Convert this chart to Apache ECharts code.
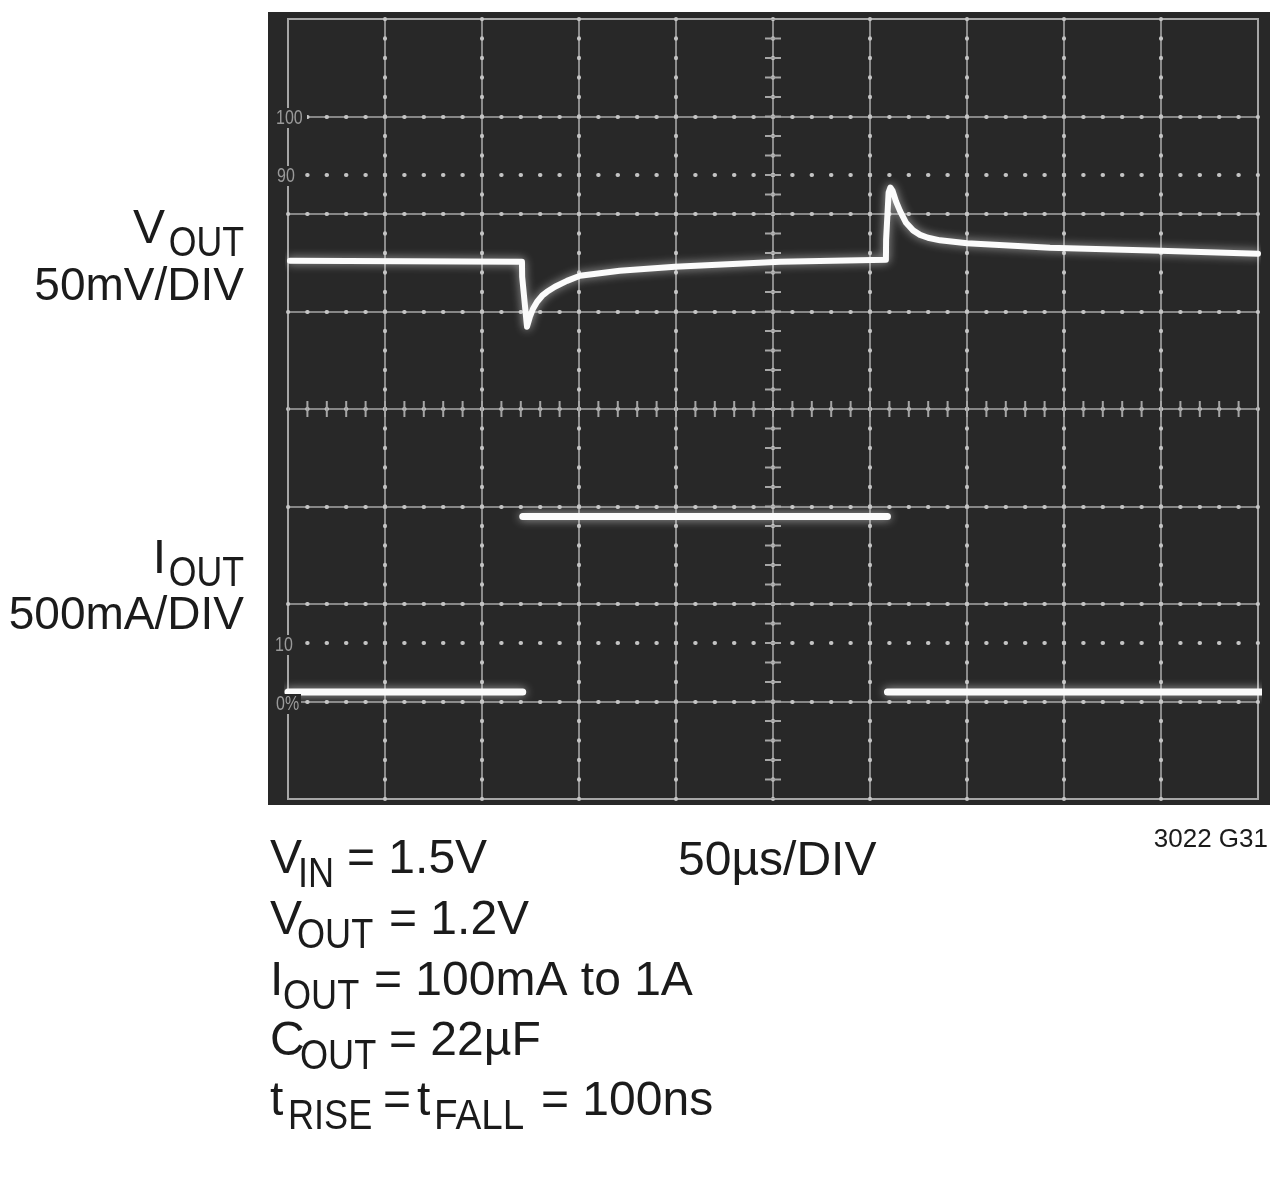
<!DOCTYPE html>
<html><head><meta charset="utf-8">
<script src="https://cdn.jsdelivr.net/npm/echarts@6/dist/echarts.min.js"></script>
<style>html,body{margin:0;padding:0;background:#fff}#c{width:1280px;height:1190px}</style>
</head><body><div id="c"></div>
<script>
// ---- data (time in µs, VOUT deviation in mV from 1.2V, IOUT in mA) ----
const voutTime = [1, 120.6, 120.7, 123.2, 124.7, 126.3, 128.4, 131, 133.5, 137.6, 143.8, 150.5, 171, 199.5, 253.6, 308.2, 308.3, 309.6, 310.5, 311.6, 313.4, 315.5, 318.6, 322.2, 325.8, 329.9, 336.1, 350, 392.8, 449.5, 500];
const voutMv   = [0, -0.5, -8.2, -33.8, -28.7, -24.6, -21.0, -17.9, -15.9, -13.3, -10.3, -7.7, -5.1, -3.1, -0.5, 0.5, 10.8, 35.0, 37.6, 36.0, 30.5, 25.5, 19.5, 15.6, 13.3, 11.8, 10.5, 9.0, 6.7, 5.1, 3.6];
const ioutTime = [0, 121, 121, 121, 309, 309, 309, 502];
const ioutMa   = [100, 100, '-', 1000, 1000, '-', 100, 100];
// ---- text ----
const vLabel = ['V', 'OUT', '50mV/DIV'];
const iLabel = ['I', 'OUT', '500mA/DIV'];
const notes = [
  ['V', 'IN', '= 1.5V'],
  ['V', 'OUT', '= 1.2V'],
  ['I', 'OUT', '= 100mA to 1A'],
  ['C', 'OUT', '= 22µF']
];
const noteLast = ['t', 'RISE', '=', 't', 'FALL', '= 100ns'];
const timeBase = '50µs/DIV';
const figId = '3022 G31';
const gratLabels = ['100', '90', '10', '0%'];

const FONT = '"Liberation Sans", Arial, sans-serif';
const INK = '#1b1b1b';
function txt(text, x, y, size, opts) {
  opts = opts || {};
  return { type: 'text', x: x, y: y, z: 100, silent: true, scaleX: opts.sx || 1,
    style: { text: text, font: size + 'px ' + FONT, fill: opts.fill || INK,
      align: opts.align || 'left', verticalAlign: 'middle' } };
}
function patch(x, y, w, h) {
  return { type: 'rect', z: 90, silent: true, shape: { x: x, y: y, width: w, height: h }, style: { fill: '#282828' } };
}
const SUB = 0.86;
const GL = { fill: '#9a9a9a', sx: 0.8 };

const graphics = [
  { type: 'rect', z: -100, silent: true, shape: { x: 268, y: 12, width: 1002, height: 793 }, style: { fill: '#282828' } },
  // left labels
  txt(vLabel[0], 165, 230, 48, { align: 'right' }),
  txt(vLabel[1], 244, 244, 43, { align: 'right', sx: 0.83 }),
  txt(vLabel[2], 244, 287, 46, { align: 'right' }),
  txt(iLabel[0], 166, 560, 48, { align: 'right' }),
  txt(iLabel[1], 244, 574, 43, { align: 'right', sx: 0.83 }),
  txt(iLabel[2], 244, 616, 46, { align: 'right' }),
  // graticule labels (with small dark patches under them, as on the scope screen)
  patch(275, 108, 32, 20), patch(275, 166, 25, 20), patch(273, 635, 22, 20), patch(274, 694, 27, 20),
  txt(gratLabels[0], 276, 118, 20, GL),
  txt(gratLabels[1], 277, 176, 20, GL),
  txt(gratLabels[2], 275, 645, 20, GL),
  txt(gratLabels[3], 276, 704, 20, GL),
  // bottom
  txt(timeBase, 678, 862, 48),
  txt(figId, 1268, 840, 26, { align: 'right' })
];
const noteX = [[270, 298, 347], [270, 297, 389], [270, 283, 374], [270, 300, 389]];
const noteY = [860, 921, 982, 1042];
notes.forEach(function (n, i) {
  graphics.push(txt(n[0], noteX[i][0], noteY[i], 48));
  graphics.push(txt(n[1], noteX[i][1], noteY[i] + 15, 42, { sx: SUB }));
  graphics.push(txt(n[2], noteX[i][2], noteY[i], 48));
});
graphics.push(txt(noteLast[0], 270, 1102, 48));
graphics.push(txt(noteLast[1], 288, 1117, 42, { sx: SUB }));
graphics.push(txt(noteLast[2], 383, 1102, 48));
graphics.push(txt(noteLast[3], 417, 1102, 48));
graphics.push(txt(noteLast[4], 434, 1117, 42, { sx: 0.92 }));
graphics.push(txt(noteLast[5], 541, 1102, 48));

const GRID_COL = '#a6a6a6';
const DOT_COL = '#c4c4c4';
const hidden = { axisLine: { show: false }, axisTick: { show: false }, axisLabel: { show: false } };

const option = {
  backgroundColor: '#ffffff',
  animation: false,
  graphic: graphics,
  grid: { left: 288, top: 19, width: 970, height: 780, show: true, backgroundColor: '#282828', borderColor: GRID_COL, borderWidth: 2 },
  xAxis: [
    Object.assign({ type: 'value', min: 0, max: 500, interval: 50,
      splitLine: { show: true, showMinLine: false, showMaxLine: false, lineStyle: { color: GRID_COL, width: 1.6 } } }, hidden),
    Object.assign({ type: 'value', min: 0, max: 500, interval: 50,
      splitLine: { show: true, showMinLine: false, showMaxLine: false, lineStyle: { color: DOT_COL, width: 4, type: [0.5, 19], cap: 'round', dashOffset: 0.25 } } }, hidden)
  ],
  yAxis: [
    Object.assign({ type: 'value', min: -276, max: 124, splitLine: { show: false } }, hidden),
    Object.assign({ type: 'value', min: -449, max: 3551, splitLine: { show: false } }, hidden),
    Object.assign({ type: 'value', min: 0, max: 8, interval: 1,
      splitLine: { show: true, showMinLine: false, showMaxLine: false, lineStyle: { color: GRID_COL, width: 1.6 } } }, hidden),
    Object.assign({ type: 'value', min: 0, max: 8, interval: 1,
      splitLine: { show: true, showMinLine: false, showMaxLine: false, lineStyle: { color: DOT_COL, width: 4, type: [0.5, 18.9], cap: 'round', dashOffset: 0.25 } } }, hidden)
  ],
  series: [
    { type: 'line', name: 'deco', xAxisIndex: 0, yAxisIndex: 2, data: [[0, 0]], showSymbol: false, silent: true,
      lineStyle: { opacity: 0 },
      markLine: { silent: true, symbol: 'none', label: { show: false }, animation: false,
        data: [
          { yAxis: 6.4, lineStyle: { color: DOT_COL, width: 4, type: [0.5, 18.9], cap: 'round', dashOffset: 0.25 } },
          { yAxis: 1.6, lineStyle: { color: DOT_COL, width: 4, type: [0.5, 18.9], cap: 'round', dashOffset: 0.25 } },
          { yAxis: 4, lineStyle: { color: GRID_COL, width: 16, type: [2, 17.4], cap: 'butt', dashOffset: 1 } },
          { xAxis: 250, lineStyle: { color: GRID_COL, width: 16, type: [2, 17.5], cap: 'butt', dashOffset: 1 } }
        ] } },
    { type: 'line', name: 'VOUT', xAxisIndex: 0, yAxisIndex: 0, showSymbol: false, silent: true, z: 10,
      data: voutTime.map(function (t, i) { return [t, voutMv[i]]; }),
      lineStyle: { color: '#fbfbfb', width: 6, cap: 'round', join: 'round', shadowBlur: 10, shadowColor: 'rgba(255,255,255,0.6)' } },
    { type: 'line', name: 'IOUT', xAxisIndex: 0, yAxisIndex: 1, showSymbol: false, silent: true, z: 10, connectNulls: false,
      data: ioutTime.map(function (t, i) { return [t, ioutMa[i]]; }),
      lineStyle: { color: '#fbfbfb', width: 7, cap: 'round', join: 'round', shadowBlur: 10, shadowColor: 'rgba(255,255,255,0.6)' } }
  ]
};
const chart = echarts.init(document.getElementById('c'), null, { renderer: 'canvas' });
chart.setOption(option);
</script></body></html>
